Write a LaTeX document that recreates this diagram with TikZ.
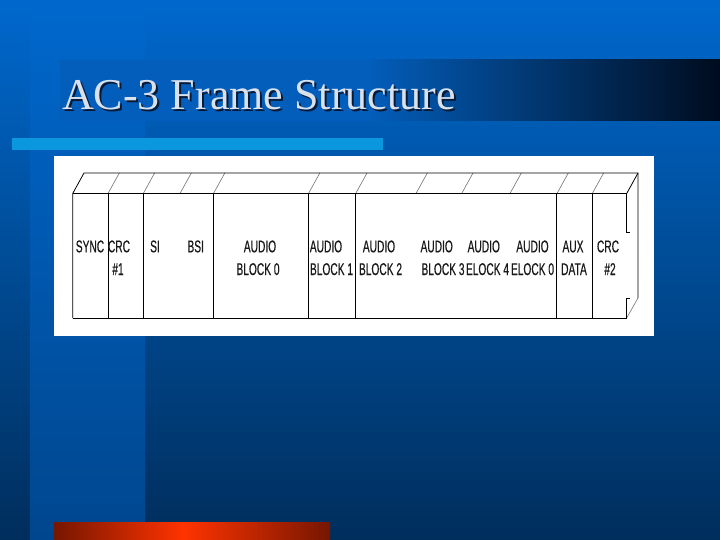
\documentclass[tikz,border=0pt]{standalone}
\usepackage{fontspec}
\setmainfont{Liberation Serif}
\newfontfamily\labfont[FakeStretch=0.6,FakeBold=0.4]{Liberation Sans}
\definecolor{bgtop}{HTML}{0068CD}
\definecolor{bgbot}{HTML}{002E5C}
\definecolor{stripbot}{HTML}{00468E}
\definecolor{bandblue}{HTML}{035DBA}
\definecolor{banddark}{HTML}{000C1E}
\definecolor{cyanbar}{HTML}{0A97DD}
\definecolor{reddark}{HTML}{761600}
\definecolor{redbright}{HTML}{FF3300}
\definecolor{titletext}{HTML}{D9E1EC}
\definecolor{titleshadow}{HTML}{0A1A35}
\tikzset{
  lab/.style={font=\labfont\fontsize{17}{20}\selectfont, inner sep=0pt, anchor=base, text=black!90},
  outline/.style={line width=0.8pt, black},
  slash/.style={line width=0.6pt, black!55},
}
\begin{document}
\begin{tikzpicture}[x=1pt,y=-1pt]
\useasboundingbox (0,0) rectangle (720,540);
% background
\shade[top color=bgtop, bottom color=bgbot] (0,0) rectangle (720,540);
\shade[top color=bgtop, bottom color=stripbot] (30,0) rectangle (145,540);
% title band
\fill[bandblue] (60,60) rectangle (370,121);
\shade[left color=bandblue, right color=banddark] (370,60) rectangle (720,121);
\node[anchor=base west, inner sep=0pt, text=titleshadow, font=\fontsize{44}{48}\selectfont] (titleshadow) at (64,112) {AC-3 Frame Structure};
\node[anchor=base west, inner sep=0pt, text=titletext, font=\fontsize{44}{48}\selectfont] (title) at (62,110) {AC-3 Frame Structure};
% cyan bar
\fill[cyanbar] (12,138) rectangle (383,150);
% white panel
\fill[white] (54,156) rectangle (654,335.5);
% red bar
\shade[left color=reddark, right color=redbright] (54,522) rectangle (183,540);
\shade[left color=redbright, right color=reddark] (183,522) rectangle (330,540);

% ---- frame diagram ----
% slashes on the top face
\foreach \x in {108,143.3,180,213.5,308.5,355.7,416,461.7,510,557,592.3}
  \draw[slash] (\x,193.5) -- ++(11.3,-20.5);
% outline
\draw[outline] (72.7,318) -- (72.7,193.5) -- (84,173) -- (638,173) -- (638,298);
\draw[outline] (72.7,193.5) -- (626.7,193.5);
\draw[outline] (72.7,318) -- (626.7,318);
\draw[outline] (626.7,193.5) -- (638,173);
\draw[slash] (626.7,318) -- (638,298);
% right front edge with gap
\draw[outline] (626.7,193.5) -- (626.7,232) -- (629.5,232);
\draw[outline] (629.5,298) -- (626.7,298) -- (626.7,318);
% dividers
\foreach \x in {108,143.3,213.5,308.5,355.7,556.7,592.3}
  \draw[outline] (\x,193.5) -- (\x,318);

% labels
\node[lab] (sync) at (90,252.3) {SYNC};
\node[lab] (crca) at (119,252.3) {CRC};
\node[lab] (crcb) at (118,275) {\#1};
\node[lab] (si) at (155,252.3) {SI};
\node[lab] (bsi) at (195.7,252.3) {BSI};
\node[lab] (a0a) at (260,252.3) {AUDIO};
\node[lab] (a0b) at (258,275) {BLOCK 0};
\node[lab] (a1a) at (326,252.3) {AUDIO};
\node[lab] (a1b) at (331.5,275) {BLOCK 1};
\node[lab] (a2a) at (379,252.3) {AUDIO};
\node[lab] (a2b) at (380.5,275) {BLOCK 2};
\node[lab] (a3a) at (436.7,252.3) {AUDIO};
\node[lab] (a3b) at (443,275) {BLOCK 3};
\node[lab] (a4a) at (483.8,252.3) {AUDIO};
\node[lab] (a4b) at (487.5,275) {ELOCK 4};
\node[lab] (a5a) at (532.5,252.3) {AUDIO};
\node[lab] (a5b) at (532.5,275) {ELOCK 0};
\node[lab] (auxa) at (573,252.3) {AUX};
\node[lab] (auxb) at (574,275) {DATA};
\node[lab] (crc2a) at (608,252.3) {CRC};
\node[lab] (crc2b) at (610,275) {\#2};
\end{tikzpicture}
\end{document}
